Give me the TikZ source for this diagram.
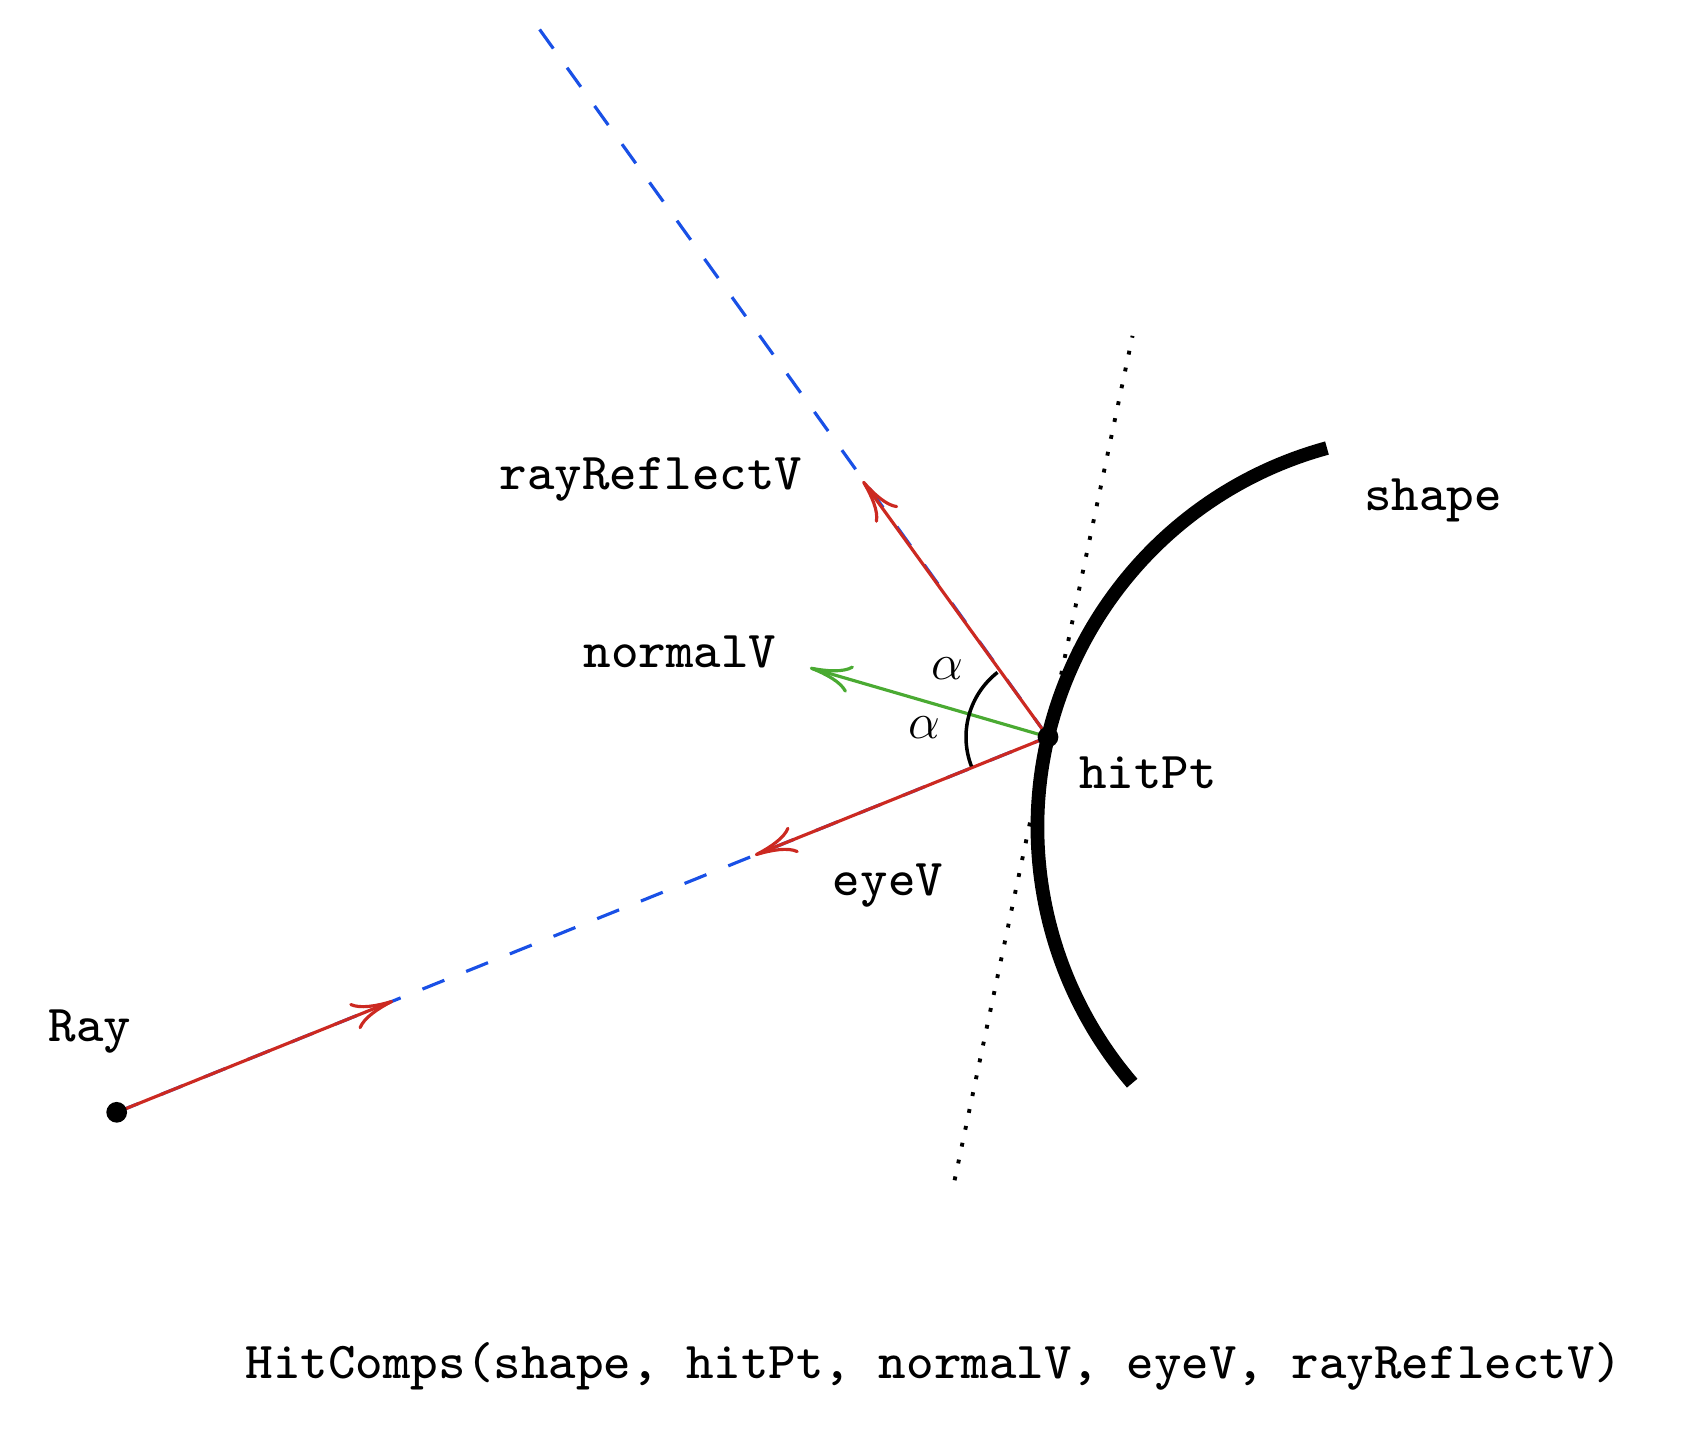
\documentclass[tikz,border=0pt]{standalone}
\usepackage{fontspec}
\newfontfamily\lblfont{lmmono8-regular}[Extension=.otf]
\usetikzlibrary{arrows.meta,calc}
\definecolor{rayred}{RGB}{204,41,33}
\definecolor{rayblue}{RGB}{25,80,230}
\definecolor{normgreen}{RGB}{74,170,50}
\begin{document}
\begin{tikzpicture}[
    font=\fontsize{14.75pt}{18pt}\selectfont\lblfont,
    vec/.style={line width=0.9pt, -{To[length=12pt,width=8pt]}},
    raypath/.style={rayblue, line width=0.9pt, dash pattern=on 6.7pt off 6.7pt},
    ptdot/.style={circle, fill, inner sep=0pt, minimum size=5.9pt}
  ]
  \useasboundingbox (0,0) rectangle (16.92,14.34);

  % points of the ray
  \coordinate (rayStart) at (1.167,3.217);
  \coordinate (hitPt) at (10.48,6.97);
  \coordinate (rayTip) at ($(rayStart)!2.98cm!(hitPt)$);
  \coordinate (eyeTip) at ($(hitPt)!3.16cm!(rayStart)$);
  \coordinate (normTip) at ($(hitPt)+(163.8:2.48)$);
  \coordinate (reflTip) at ($(hitPt)+(125.9:3.16)$);
  \coordinate (reflEnd) at ($(hitPt)+(125.7:8.84)$);
  \coordinate (tanTop) at ($(hitPt)+(78.1:4.1)$);
  \coordinate (tanBot) at ($(hitPt)+(258.1:4.53)$);
  \coordinate (shapeC) at (14.307,6.067);

  % dashed ray and reflected ray
  \draw[raypath] (rayStart) -- (hitPt);
  \draw[raypath] (hitPt) -- (reflEnd);

  % tangent at hitPt
  \draw[line width=1.1pt, dash pattern=on 1.1pt off 3.8pt] (tanBot) -- (tanTop);

  % vectors
  \draw[vec, rayred] (rayStart) -- (rayTip);
  \draw[vec, rayred] (hitPt) -- (eyeTip);
  \draw[vec, rayred] (hitPt) -- (reflTip);
  \draw[vec, normgreen] (hitPt) -- (normTip);

  % angles
  \draw[line width=1pt] ($(hitPt)+(128:0.82)$) arc[start angle=128, end angle=201, radius=0.82];
  \node (alphaUp) at ($(hitPt)+(145.7:1.22)$) {$\alpha$};
  \node (alphaLow) at ($(hitPt)+(175.8:1.24)$) {$\alpha$};

  % shape
  \draw[line width=3.9pt] (shapeC) ++(105.3:3.932) arc[start angle=105.3, end angle=220.6, radius=3.932];

  \node[ptdot] (rayDot) at (rayStart) {};
  \node[ptdot] (hitDot) at (hitPt) {};

  % labels
  \node (rayLbl) at (0.90,4.02) {Ray};
  \node (reflLbl) at (6.51,9.55) {rayReflectV};
  \node (normLbl) at (6.80,7.82) {normalV};
  \node (shapeLbl) at (14.33,9.34) {shape};
  \node (hitLbl) at (11.48,6.61) {hitPt};
  \node (eyeLbl) at (8.88,5.48) {eyeV};
  \node (compsLbl) at (9.34,0.68) {HitComps(shape, hitPt, normalV, eyeV, rayReflectV)};
\end{tikzpicture}
\end{document}
